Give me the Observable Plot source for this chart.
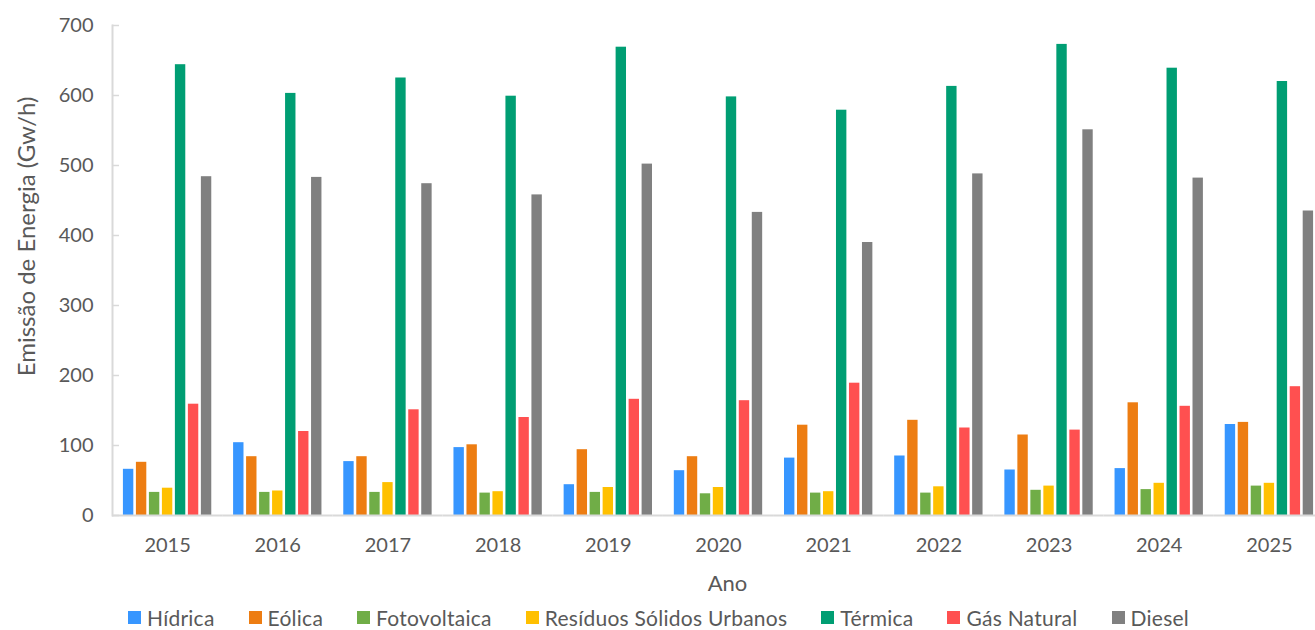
<!DOCTYPE html>
<html>
<head>
<meta charset="utf-8">
<script src="https://cdn.jsdelivr.net/npm/d3@7"></script>
<script src="https://cdn.jsdelivr.net/npm/@observablehq/plot@0.6"></script>
<style>
  html, body { margin: 0; padding: 0; background: #fff; }
  body { width: 1315px; height: 630px; overflow: hidden; font-family: Lato, sans-serif; }
  #chart svg { display: block; }
  #chart g[aria-label="y-axis label"] text { font-size: 24px; }
  #chart g[aria-label="fx-axis label"] text { font-size: 22px; }
  #legend { display: flex; align-items: center; padding-left: 128px; margin-top: 5px;
            font-size: 21px; line-height: normal; letter-spacing: 0.25px; color: #595959; white-space: nowrap; }
  #legend .item { display: flex; align-items: center; margin-right: 34px; }
  #legend .sw { width: 13px; height: 13px; margin-right: 6px; }
</style>
</head>
<body>
<div id="chart"></div>
<div id="legend"></div>
<script>
const years = ["2015", "2016", "2017", "2018", "2019", "2020", "2021", "2022", "2023", "2024", "2025"];
const series = ["Hídrica", "Eólica", "Fotovoltaica", "Resíduos Sólidos Urbanos", "Térmica", "Gás Natural", "Diesel"];
const colors = ["#3796FF", "#ED7D12", "#70AD47", "#FFC000", "#009E73", "#FF5050", "#808080"];

const hidrica      = [66, 104, 77, 97, 44, 64, 82, 85, 65, 67, 130];
const eolica       = [76, 84, 84, 101, 94, 84, 129, 136, 115, 161, 133];
const fotovoltaica = [33, 33, 33, 32, 33, 31, 32, 32, 36, 37, 42];
const residuos     = [39, 35, 47, 34, 40, 40, 34, 41, 42, 46, 46];
const termica      = [644, 603, 625, 599, 669, 598, 579, 613, 673, 639, 620];
const gasNatural   = [159, 120, 151, 140, 166, 164, 189, 125, 122, 156, 184];
const diesel       = [484, 483, 474, 458, 502, 433, 390, 488, 551, 482, 435];

const yTicks = [0, 100, 200, 300, 400, 500, 600, 700];

const values = [hidrica, eolica, fotovoltaica, residuos, termica, gasNatural, diesel];
const data = years.flatMap((yr, i) => series.map((s, j) => ({year: yr, series: s, value: values[j][i]})));

const chart = Plot.plot({
  width: 1315,
  height: 600,
  marginTop: 25,
  marginBottom: 85,
  marginLeft: 112,
  marginRight: 0,
  style: {fontFamily: "Lato, sans-serif", fontSize: "20px", background: "#fff", overflow: "visible"},
  fx: {domain: years, range: [112, 1324], padding: 0, round: false},
  x: {domain: series, paddingInner: 0.2, paddingOuter: 0.84, round: false, axis: null},
  y: {domain: [0, 700], axis: null},
  color: {domain: series, range: colors},
  marks: [
    Plot.barY(data, {fx: "year", x: "series", y: "value", fill: "series"}),
    Plot.ruleY([0], {stroke: "#d9d9d9", strokeWidth: 2}),
    Plot.frame({anchor: "left", facetAnchor: "left", stroke: "#d9d9d9", strokeWidth: 2}),
    Plot.axisY({ticks: yTicks, tickSize: -7, tickPadding: 26, stroke: "#d9d9d9", strokeWidth: 1.5,
                fill: "#595959", label: "Emissão de Energia (Gw/h)", labelAnchor: "center",
                labelOffset: 95, labelArrow: "none"}),
    Plot.axisFx({anchor: "bottom", tickSize: 0, tickPadding: 22, fill: "#595959",
                 label: "Ano", labelAnchor: "center", labelOffset: 75, labelArrow: "none"})
  ]
});
document.getElementById("chart").appendChild(chart);

// Nudge axis titles to where the reference places them
function nudge(sel, dx, dy) {
  const g = chart.querySelector(sel);
  if (!g) return;
  const t = g.getAttribute("transform") || "";
  g.setAttribute("transform", `translate(${dx},${dy}) ${t}`);
}
nudge('g[aria-label="y-axis label"]', 0, -34);
nudge('g[aria-label="fx-axis label"]', 9, 0);

const legend = document.getElementById("legend");
series.forEach((s, i) => {
  const item = document.createElement("div");
  item.className = "item";
  const sw = document.createElement("span");
  sw.className = "sw";
  sw.style.background = colors[i];
  const label = document.createElement("span");
  label.textContent = s;
  item.appendChild(sw);
  item.appendChild(label);
  legend.appendChild(item);
});
</script>
</body>
</html>
